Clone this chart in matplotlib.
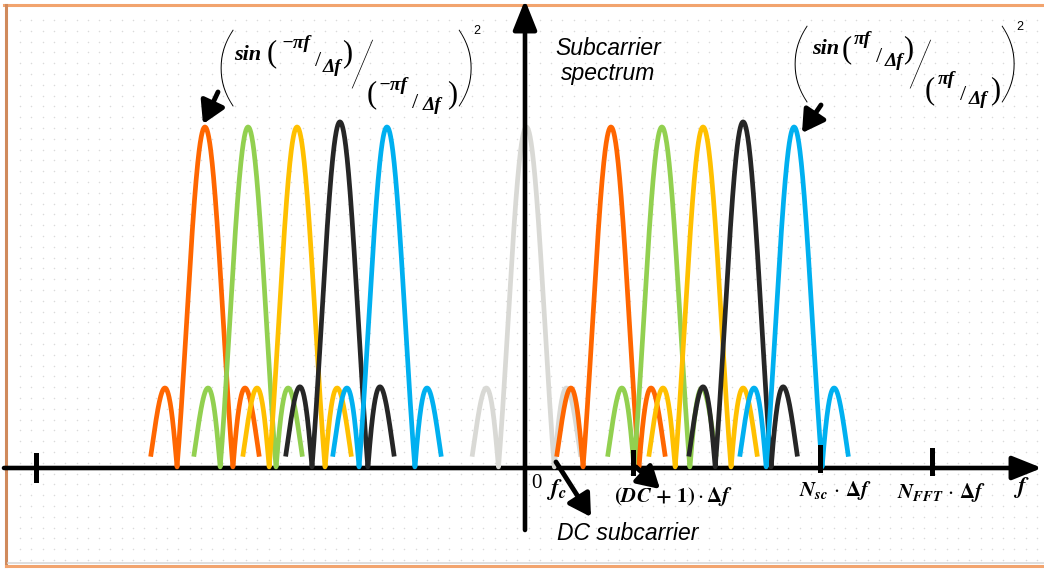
"""
OFDM subcarrier spectrum sketch (|sinc| lobes around the DC subcarrier).
"""
import numpy as np
import matplotlib.pyplot as plt

plt.rcParams["mathtext.fontset"] = "stix"

W, H = 1044, 570

# ---------- data (x in units of delta-f, y relative to the main lobe peak) ----------
left_centers = [-11.43, -9.89, -8.14, -6.61, -4.93]
right_centers = [3.07, 4.89, 6.36, 7.79, 9.61]
dc_center = 0.05
peaks = [1.0, 1.0, 1.0, 1.015, 1.0]
colors = ["#FF6600", "#92D050", "#FFC000", "#262626", "#00B0F0"]
dc_color = "#D9D9D5"
lobe_extent = 1.94          # main lobe + one side lobe on each side
sidelobe_gain = 1.08
tick_x = [-17.46, 3.86, 10.54, 14.54]

# pixel -> data helpers (the axes fill the whole figure)
X0, Y0, SX, SY = 525, 468, 28.0, 341.0
def dx(px): return (px - X0) / SX
def dy(py): return (Y0 - py) / SY

fig = plt.figure(figsize=(W / 100, H / 100), dpi=100)

# background: white page with a faint dot pattern
bg = fig.add_axes([0, 0, 1, 1], zorder=0)
bg.set_xlim(0, W); bg.set_ylim(H, 0); bg.axis("off")
gx, gy = np.meshgrid(np.arange(20, 1040, 11.3), np.arange(20, 562, 10.8))
bg.scatter(gx.ravel(), gy.ravel(), s=1.2, color="#DADADA", linewidths=0)
# page border
bg.plot([4, 1044], [5, 5], color="#F2A46E", lw=2.2)
bg.plot([6, 6], [5, 566], color="#D08A5C", lw=2.2)
bg.plot([6, 1044], [566, 566], color="#F2A46E", lw=2.2)
bg.plot([8, 1044], [563, 563], color="#D8D8D8", lw=1.2)

ax = fig.add_axes([0, 0, 1, 1], zorder=1)
ax.patch.set_alpha(0)
ax.set_xlim(dx(0), dx(W)); ax.set_ylim(dy(H), dy(0)); ax.axis("off")

u = np.linspace(-lobe_extent, lobe_extent, 400)
shape = np.abs(np.sinc(u)) * np.where(np.abs(u) > 1, sidelobe_gain, 1.0)
def lobe(c, a, col):
    ax.plot(c + u, a * shape, color=col, lw=3.4, solid_capstyle="butt", zorder=3)

for c, a, col in zip(left_centers, peaks, colors):
    lobe(c, a, col)
lobe(dc_center, 1.0, dc_color)
for c, a, col in zip(right_centers, peaks, colors):
    lobe(c, a, col)

# axes with arrow heads
axis_kw = dict(arrowstyle="-|>,head_length=0.45,head_width=0.18", lw=3.3,
               color="black", mutation_scale=40, shrinkA=0, shrinkB=0)
ax.annotate("", xy=(dx(1042), 0), xytext=(dx(4), 0), arrowprops=axis_kw,
            zorder=2, annotation_clip=False)
ax.annotate("", xy=(0, dy(0)), xytext=(0, dy(530)), arrowprops=axis_kw,
            zorder=5, annotation_clip=False)

tick_span = [(455, 480), (452, 473), (447, 470), (450, 473)]
for tx, (t0, t1) in zip(tick_x, tick_span):
    ax.plot([tx, tx], [dy(t0), dy(t1)], color="black", lw=3.6, zorder=4)

# pointer arrows
ptr_kw = dict(arrowstyle="-|>,head_length=0.6,head_width=0.35", lw=3.5,
              color="black", mutation_scale=22, shrinkA=0, shrinkB=0)
for (x1, y1), (x2, y2) in [((218, 92), (203, 124)), ((821, 105), (802, 133)),
                           ((556, 462), (591, 517)), ((636, 467), (660, 489))]:
    ax.annotate("", xy=(dx(x2), dy(y2)), xytext=(dx(x1), dy(y1)),
                arrowprops=ptr_kw, zorder=6, annotation_clip=False)

def ft(px, py, s, size, **kw):
    fig.text(px / W, 1 - py / H, s, fontsize=size, ha="center", va="center", **kw)

serif_bi = dict(family="Liberation Serif", weight="bold", style="italic")
serif = dict(family="Liberation Serif")
thin = dict(family="Lato", weight="light")

# axis labels
ft(536, 483, "0", 15, **serif)
ft(556, 489, r"$\mathbfit{f_c}$", 17)
ft(673, 497, r"$\mathbf{(}\mathbfit{DC}\mathbf{\,+\,1)}\cdot\mathbf{\Delta}\mathbfit{f}$", 15)
ft(835, 491, r"$\mathbfit{N_{sc}}\,\cdot\,\mathbf{\Delta}\mathbfit{f}$", 15)
ft(941, 493, r"$\mathbfit{N_{FFT}}\,\cdot\,\mathbf{\Delta}\mathbfit{f}$", 15)
ft(1021, 488, r"$\mathbfit{f}$", 17)
ft(608, 61, "Subcarrier\nspectrum", 16.5, family="Liberation Sans", style="italic",
   linespacing=1.15)
ft(628, 533, "DC subcarrier", 16.5, family="Liberation Sans", style="italic")

# skewed-fraction formulas: (x, y) of each piece in pixels
def formula(k, xs, ys):
    pieces = [("(", 64, thin), ("sin", 16, serif_bi), ("(", 22, serif),
              (k, 14, serif_bi), ("/", 16, serif), ("\u0394f", 14, serif_bi),
              (")", 22, serif), ("/", 46, thin), ("(", 22, serif),
              (k, 14, serif_bi), ("/", 16, serif), ("\u0394f", 14, serif_bi),
              (")", 22, serif), (")", 64, thin)]
    for (s, size, style), x, y in zip(pieces, xs, ys):
        ft(x, y, s, size, **style)
    ft(xs[-1] + 11, ys[0] - 42, "2", 9, family="Liberation Sans")

formula("\u2212\u03c0f",
        [226, 248, 272, 296, 318, 332, 347, 362, 372, 393, 415, 432, 452, 466],
        [73, 55, 54, 44, 62, 67, 54, 68, 95, 86, 103, 106, 95, 73])
formula("\u03c0f",
        [799, 826, 847, 862, 879, 894, 908, 920, 930, 946, 963, 978, 995, 1009],
        [69, 49, 50, 40, 57, 62, 50, 68, 91, 80, 96, 100, 91, 69])

fig.savefig("out.png", dpi=100, facecolor="white")
